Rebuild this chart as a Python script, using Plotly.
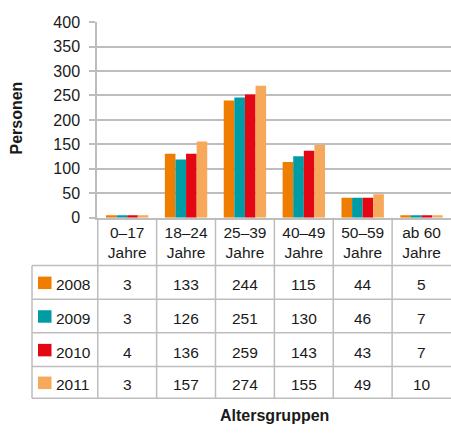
import plotly.graph_objects as go

# ---------------- data ----------------
categories = ["0–17<br>Jahre", "18–24<br>Jahre", "25–39<br>Jahre",
              "40–49<br>Jahre", "50–59<br>Jahre", "ab 60<br>Jahre"]
years = ["2008", "2009", "2010", "2011"]

# bar heights as drawn in the chart
bars_2008 = [5, 131, 240, 114, 41, 5]
bars_2009 = [5, 119, 246, 126, 41, 5]
bars_2010 = [5, 131, 252, 137, 41, 5]
bars_2011 = [5, 156, 270, 149, 48, 5]

# values printed in the data table
table_2008 = [3, 133, 244, 115, 44, 5]
table_2009 = [3, 126, 251, 130, 46, 7]
table_2010 = [4, 136, 259, 143, 43, 7]
table_2011 = [3, 157, 274, 155, 49, 10]

y_ticks = [0, 50, 100, 150, 200, 250, 300, 350, 400]

# ---------------- style ----------------
colors = ["#EF7D00", "#009CA6", "#E30613", "#F6A95B"]
W, H = 451, 436
FONT = "Liberation Sans, Arial, sans-serif"
BOLD = "Liberation Sans, Arial, sans-serif"
GRID = "#bdbdbd"
TXT = "#1a1a1a"


def px(x):
    return x / W


def py(y):
    return 1 - y / H


bar_series = [bars_2008, bars_2009, bars_2010, bars_2011]
table_series = [table_2008, table_2009, table_2010, table_2011]

fig = go.Figure()
for name, vals, col in zip(years, bar_series, colors):
    fig.add_trace(go.Bar(x=categories, y=vals, name=name,
                         marker=dict(color=col, line=dict(width=0))))

plot_left, plot_top, plot_bottom = 97, 14.7, 218.3
row_edges = [268, 303, 338, 373, 406]

fig.update_layout(
    width=W, height=H,
    margin=dict(l=0, r=0, t=0, b=0),
    paper_bgcolor="white", plot_bgcolor="white",
    showlegend=False,
    barmode="group", bargap=0.28, bargroupgap=0,
    font=dict(family=FONT, size=15.5, color=TXT),
    xaxis=dict(domain=[px(plot_left), 1], type="category",
               showline=True, linecolor=GRID, linewidth=1.5,
               ticks="", showgrid=False,
               tickfont=dict(family=FONT, size=15.5, color=TXT),
               ticklabelstandoff=0),
    yaxis=dict(domain=[py(plot_bottom), py(plot_top)], range=[0, 400],
               tickvals=y_ticks, showgrid=True, gridcolor=GRID, gridwidth=1.5,
               showline=True, linecolor=GRID, linewidth=1.5,
               ticks="outside", ticklen=6, tickcolor=GRID, tickwidth=1.5,
               tickfont=dict(family=FONT, size=16, color=TXT),
               ticklabelstandoff=6, zeroline=False),
)

shapes = []
line = dict(color=GRID, width=1.5)
# horizontal table lines
for ye in row_edges:
    shapes.append(dict(type="line", xref="paper", yref="paper",
                       x0=px(32), x1=1, y0=py(ye), y1=py(ye), line=line))
# left border of row-label column
shapes.append(dict(type="line", xref="paper", yref="paper",
                   x0=px(32), x1=px(32), y0=py(row_edges[0]), y1=py(row_edges[-1]), line=line))
# vertical category boundaries
for k in range(len(categories)):
    shapes.append(dict(type="line", xref="x", yref="paper",
                       x0=k - 0.5, x1=k - 0.5, y0=py(plot_bottom), y1=py(row_edges[-1]), line=line))

annotations = []
for r, (yr, vals, col) in enumerate(zip(years, table_series, colors)):
    yc = (row_edges[r] + row_edges[r + 1]) / 2
    yt = yc + 2.5
    # legend key
    shapes.append(dict(type="rect", xref="paper", yref="paper",
                       x0=px(38), x1=px(51.5), y0=py(yc + 7), y1=py(yc - 6),
                       fillcolor=col, line=dict(width=0)))
    annotations.append(dict(xref="paper", yref="paper", x=px(54), y=py(yt),
                            text=yr, showarrow=False, xanchor="left", yanchor="middle",
                            font=dict(family=FONT, size=15.5, color=TXT)))
    for cat, v in zip(categories, vals):
        annotations.append(dict(xref="x", yref="paper", x=cat, y=py(yt),
                                text=str(v), showarrow=False, xanchor="center",
                                yanchor="middle",
                                font=dict(family=FONT, size=15.5, color=TXT)))

annotations.append(dict(xref="paper", yref="paper", x=px(17), y=py(115),
                        text="<b>Personen</b>", textangle=-90, showarrow=False,
                        xanchor="center", yanchor="middle",
                        font=dict(family=BOLD, size=16, color=TXT)))
annotations.append(dict(xref="paper", yref="paper", x=px(274), y=py(424),
                        text="<b>Altersgruppen</b>", showarrow=False,
                        xanchor="center", yanchor="middle",
                        font=dict(family=BOLD, size=16, color=TXT)))

fig.update_layout(shapes=shapes, annotations=annotations)

fig.write_html("out.html", config={"displayModeBar": False},
               post_script="document.body.style.margin='0';document.body.style.overflow='hidden';")
